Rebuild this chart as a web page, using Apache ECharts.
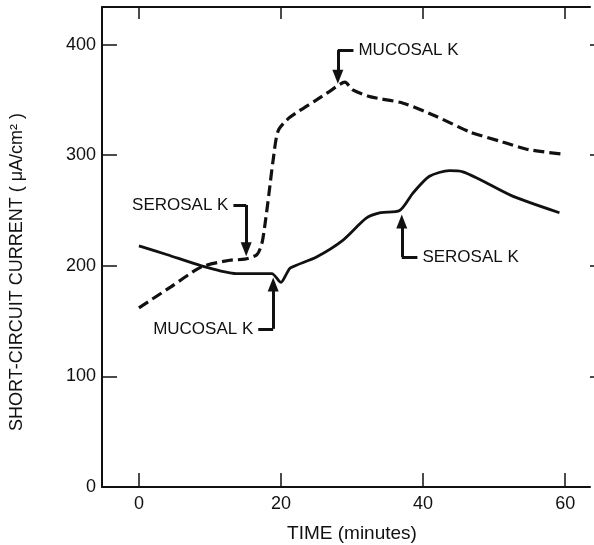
<!DOCTYPE html>
<html>
<head>
<meta charset="utf-8">
<script src="https://cdn.jsdelivr.net/npm/echarts@6/dist/echarts.min.js"></script>
<style>
html,body{margin:0;padding:0;background:#fff;}
#chart{width:594px;height:545px;}
</style>
</head>
<body>
<div id="chart"></div>
<script>
// Data
const timeSolid = [0, 4, 8.8, 13.7, 18.7, 20.0, 20.8, 21.3, 25, 28.7, 32, 34, 36.7, 38.6, 40.9, 43.7, 45.6, 48, 52.6, 59.2];
const currentSolid = [218, 210, 200, 193, 193, 185, 193, 198, 208, 223, 243, 248, 250, 266, 281, 286, 285, 278, 263, 248];

const timeDashed = [0, 4.5, 8.8, 12.8, 14.9, 16.6, 17.3, 17.8, 18.3, 18.9, 19.6, 21.2, 25, 26.9, 29, 30.1, 32.5, 37.2, 41.9, 46.6, 51.2, 54.9, 59.7];
const currentDashed = [162, 181, 199, 205, 206, 210, 220, 240, 265, 296, 322, 334, 350, 358, 366, 359, 353, 347, 335, 321, 312, 305, 301];

const xTicks = [0, 20, 40, 60];
const yTicks = [0, 100, 200, 300, 400];
const yTicksRight = [100, 200, 300, 400];

// Annotations: text, horizontal segment start, corner, arrow tip (data units)
const annotations = [
  { text: 'MUCOSAL K', from: [30.2, 395], corner: [28.0, 395], tip: [28.0, 371] },
  { text: 'SEROSAL K', from: [13.3, 255], corner: [15.1, 255], tip: [15.1, 215] },
  { text: 'MUCOSAL K', from: [16.8, 143], corner: [18.9, 143], tip: [18.9, 183] },
  { text: 'SEROSAL K', from: [39.2, 208], corner: [37.0, 208], tip: [37.0, 240] }
];

const FONT = "'Liberation Sans', Arial, sans-serif";
const INK = '#111';

const pair = (a, b) => a.map((v, i) => [v, b[i]]);

const markLines = [];
annotations.forEach(a => {
  markLines.push([
    { coord: a.from, symbol: 'none',
      label: { show: true, position: 'start', formatter: a.text, distance: 5,
               color: INK, fontSize: 17, fontFamily: FONT } },
    { coord: a.corner, symbol: 'none' }
  ]);
  markLines.push([
    { coord: a.corner, symbol: 'none', label: { show: false } },
    { coord: a.tip, symbol: 'triangle', symbolSize: [11, 14], label: { show: false } }
  ]);
});

const chart = echarts.init(document.getElementById('chart'));
chart.setOption({
  animation: false,
  backgroundColor: '#fff',
  grid: { left: 102, right: 4, top: 7, bottom: 58, containLabel: false, outerBoundsMode: 'none' },
  xAxis: [{
    type: 'value', position: 'bottom', min: -5.2, max: 63.5,
    axisLine: { show: true, onZero: false, lineStyle: { color: INK, width: 2 } },
    axisTick: { show: true, inside: true, length: 14, customValues: xTicks, lineStyle: { color: INK, width: 1.5 } },
    axisLabel: { customValues: xTicks, margin: 8, color: INK, fontSize: 18, fontFamily: FONT },
    splitLine: { show: false },
    name: 'TIME (minutes)', nameLocation: 'middle', nameGap: 37,
    nameTextStyle: { color: INK, fontSize: 19, fontFamily: FONT, padding: [0, 0, 0, 12] }
  }, {
    type: 'value', position: 'top', min: -5.2, max: 63.5,
    axisLine: { show: true, onZero: false, lineStyle: { color: INK, width: 2 } },
    axisTick: { show: true, inside: true, length: 12, customValues: xTicks, lineStyle: { color: INK, width: 1.5 } },
    axisLabel: { show: false },
    splitLine: { show: false }
  }],
  yAxis: [{
    type: 'value', position: 'left', min: 0, max: 434,
    axisLine: { show: true, onZero: false, lineStyle: { color: INK, width: 2 } },
    axisTick: { show: true, inside: true, length: 15, customValues: yTicks, lineStyle: { color: INK, width: 1.5 } },
    axisLabel: { customValues: yTicks, margin: 6, color: INK, fontSize: 18, fontFamily: FONT },
    splitLine: { show: false },
    name: 'SHORT-CIRCUIT CURRENT ( μA/cm² )', nameLocation: 'middle', nameGap: 76,
    nameTextStyle: { color: INK, fontSize: 18, fontFamily: FONT, padding: [0, 50, 0, 0] }
  }, {
    type: 'value', position: 'right', min: 0, max: 434,
    axisLine: { show: false, onZero: false },
    axisTick: { show: true, inside: false, length: 5, customValues: yTicksRight, lineStyle: { color: INK, width: 1.5 } },
    axisLabel: { show: false },
    splitLine: { show: false }
  }],
  series: [{
    name: 'solid', type: 'line', xAxisIndex: 0, yAxisIndex: 0,
    data: pair(timeSolid, currentSolid), showSymbol: false, smooth: 0.25,
    lineStyle: { color: INK, width: 2.8, type: 'solid' },
    markLine: {
      silent: true, animation: false,
      lineStyle: { color: INK, width: 3, type: 'solid' },
      emphasis: { disabled: true },
      data: markLines
    }
  }, {
    name: 'dashed', type: 'line', xAxisIndex: 0, yAxisIndex: 0,
    data: pair(timeDashed, currentDashed), showSymbol: false, smooth: 0.25,
    lineStyle: { color: INK, width: 3.2, type: [11, 5] }
  }]
});
</script>
</body>
</html>
